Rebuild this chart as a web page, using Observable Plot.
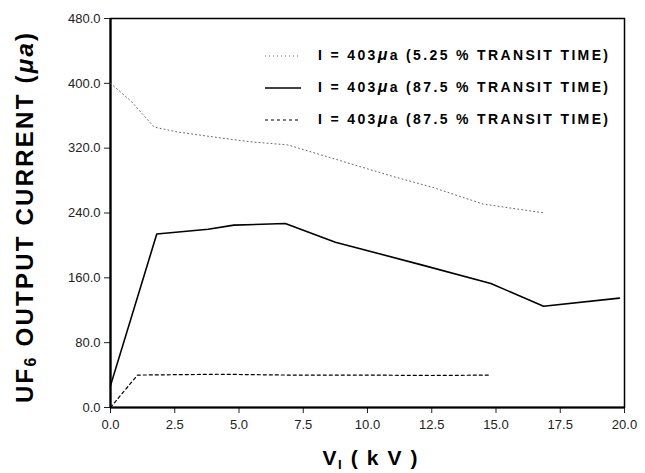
<!DOCTYPE html>
<html>
<head>
<meta charset="utf-8">
<script src="https://cdn.jsdelivr.net/npm/d3@7"></script>
<script src="https://cdn.jsdelivr.net/npm/@observablehq/plot@0.6"></script>
<style>
  html, body { margin: 0; padding: 0; background: #fff; }
  #chart svg { display: block; }
</style>
</head>
<body>
<div id="chart"></div>
<script>
// ---- data ----
const xDotted = [0, 0.8, 1.7, 2.6, 4.2, 5.4, 6.9, 9.0, 11.0, 12.5, 14.5, 16.9];
const yDotted = [400, 378, 346, 340, 333, 328, 324, 304, 285, 272, 251, 240];

const xSolid = [0, 1.8, 3.8, 4.8, 6.8, 8.75, 12.1, 14.8, 16.85, 19.8];
const ySolid = [27, 214, 220, 225, 227, 204, 176, 153, 125, 135];

const xDashed = [0, 1.05, 4.2, 7.0, 10.0, 12.5, 14.8];
const yDashed = [0, 40, 41, 40, 40, 39.5, 40];

const xTicks = [0, 2.5, 5, 7.5, 10, 12.5, 15, 17.5, 20];
const yTicks = [0, 80, 160, 240, 320, 400, 480];

const legendCurrent = "I = 403";
const legendUnit = ["μ", "a"];
const legendTimes = ["(5.25 % TRANSIT TIME)", "(87.5 % TRANSIT TIME)", "(87.5 % TRANSIT TIME)"];

const seriesStyles = [
  {stroke: "#666", strokeWidth: 1, dash: "1,3"},
  {stroke: "#000", strokeWidth: 1.6, dash: null},
  {stroke: "#000", strokeWidth: 1.2, dash: "3,3"}
];

const toRows = (xs, ys) => xs.map((x, i) => ({x, y: ys[i]}));
const dotted = toRows(xDotted, yDotted);
const solid = toRows(xSolid, ySolid);
const dashed = toRows(xDashed, yDashed);

const fmt = d3.format(".1f");

const chart = Plot.plot({
  width: 645,
  height: 473,
  marginLeft: 110,
  marginRight: 21,
  marginTop: 18,
  marginBottom: 66,
  style: {fontFamily: "'Liberation Sans', Arial, sans-serif", fontSize: "13px", color: "#222", background: "#fff"},
  x: {domain: [0, 20], ticks: xTicks, tickFormat: fmt, label: null, tickSize: 6, tickPadding: 6},
  y: {domain: [0, 480], ticks: yTicks, tickFormat: fmt, label: null, tickSize: 6, tickPadding: 4},
  marks: [
    Plot.frame({stroke: "#000", strokeWidth: 1.5}),
    Plot.ruleX([0], {stroke: "#000", strokeWidth: 2.2}),
    Plot.ruleY([0], {stroke: "#000", strokeWidth: 2.2}),
    Plot.line(dotted, {x: "x", y: "y", stroke: seriesStyles[0].stroke, strokeWidth: seriesStyles[0].strokeWidth, strokeDasharray: seriesStyles[0].dash}),
    Plot.line(solid, {x: "x", y: "y", stroke: seriesStyles[1].stroke, strokeWidth: seriesStyles[1].strokeWidth}),
    Plot.line(dashed, {x: "x", y: "y", stroke: seriesStyles[2].stroke, strokeWidth: seriesStyles[2].strokeWidth, strokeDasharray: seriesStyles[2].dash})
  ]
});

document.getElementById("chart").appendChild(chart);

const svg = d3.select(chart);
const FONT = "'Liberation Sans', Arial, sans-serif";

// y axis title with subscript
const yt = svg.append("text")
  .attr("transform", "translate(27,218) rotate(-90)")
  .attr("text-anchor", "middle")
  .attr("dominant-baseline", "middle")
  .attr("font-family", FONT)
  .attr("font-weight", "bold")
  .attr("font-size", 24)
  .attr("textLength", 370)
  .attr("lengthAdjust", "spacing")
  .attr("fill", "#000");
yt.append("tspan").text("UF");
yt.append("tspan").attr("font-size", 16).attr("dy", 5).text("6");
yt.append("tspan").attr("dy", -5).text(" OUTPUT CURRENT (");
yt.append("tspan").attr("font-style", "italic").text("μa");
yt.append("tspan").text(")");

// x axis title with subscript
const xt = svg.append("text")
  .attr("x", 370).attr("y", 465)
  .attr("text-anchor", "middle")
  .attr("font-family", FONT)
  .attr("font-weight", "bold")
  .attr("font-size", 21)
  .attr("textLength", 95)
  .attr("lengthAdjust", "spacing")
  .attr("fill", "#000");
xt.append("tspan").text("V");
xt.append("tspan").attr("font-size", 13).attr("dy", 4).text("I");
xt.append("tspan").attr("dy", -4).text(" ( k V )");

// legend
const lg = svg.append("g");
legendTimes.forEach((lab, i) => {
  const y = 56 + i * 32;
  const s = seriesStyles[i];
  lg.append("line")
    .attr("x1", 265).attr("x2", 301).attr("y1", y).attr("y2", y)
    .attr("stroke", s.stroke).attr("stroke-width", s.strokeWidth)
    .attr("stroke-dasharray", s.dash);
  const t = lg.append("text")
    .attr("x", 318).attr("y", y)
    .attr("text-anchor", "start")
    .attr("dominant-baseline", "middle")
    .attr("font-family", FONT)
    .attr("font-weight", "bold")
    .attr("font-size", 14)
    .attr("textLength", 290)
    .attr("lengthAdjust", "spacing")
    .attr("fill", "#000");
  t.append("tspan").text(legendCurrent);
  t.append("tspan").attr("font-style", "italic").attr("font-size", 16).text(legendUnit[0]);
  t.append("tspan").text(legendUnit[1] + " " + lab);
});
</script>
</body>
</html>
